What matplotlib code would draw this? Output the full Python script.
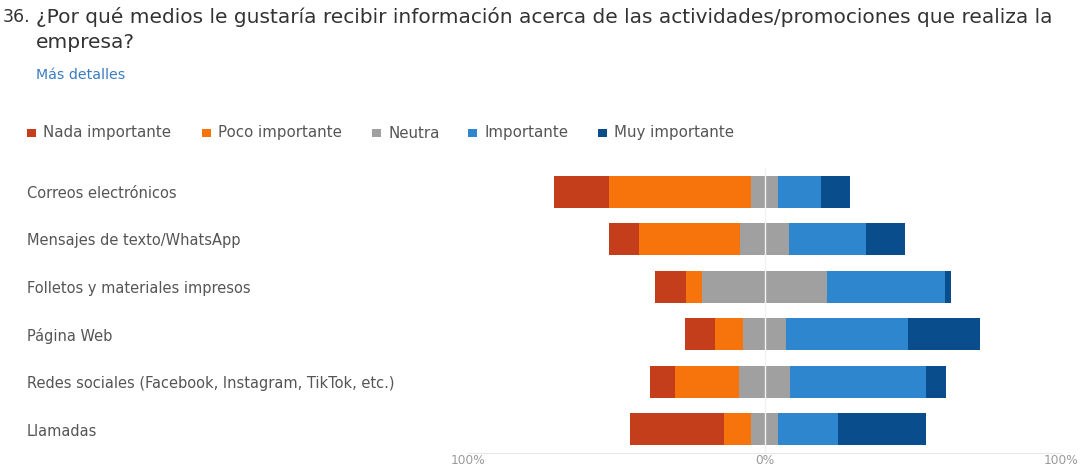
import matplotlib.pyplot as plt
from matplotlib.patches import Rectangle

plt.rcParams['font.family'] = ['DejaVu Sans']

categories = ["Correos electrónicos", "Mensajes de texto/WhatsApp",
              "Folletos y materiales impresos", "Página Web",
              "Redes sociales (Facebook, Instagram, TikTok, etc.)", "Llamadas"]
levels = ["Nada importante", "Poco importante", "Neutra", "Importante", "Muy importante"]
colors = ["#C43E1C", "#F7730C", "#A0A0A0", "#2E86CF", "#0A4D8C"]

# percent of answers per level
nada = [18.3, 10.1, 10.3, 10.1, 8.5, 31.7]
poco = [48.2, 34.0, 5.4, 9.5, 21.8, 8.8]
neutra = [8.8, 16.6, 42.4, 14.6, 16.9, 9.4]
importante = [14.7, 25.9, 39.7, 41.0, 45.9, 20.0]
muy = [9.8, 13.3, 1.9, 24.5, 6.9, 29.8]
tick_vals = [-100, 0, 100]
tick_labels = ["100%", "0%", "100%"]

W, H = 1084, 468
fig = plt.figure(figsize=(W / 100, H / 100), dpi=100)
ax = fig.add_axes([468 / W, 1 - 453 / H, 593 / W, 285 / H])

series = [nada, poco, neutra, importante, muy]
for i in range(len(categories)):
    left = -(nada[i] + poco[i] + neutra[i] / 2)
    for k in range(len(series)):
        v = series[k][i]
        ax.barh(i, v, left=left, height=0.67, color=colors[k], edgecolor='none')
        left += v

ax.axvline(0, color='#f2f2f2', lw=1, zorder=3)
ax.set_xlim(-100, 100)
ax.set_ylim(5.5, -0.5)
ax.set_xticks(tick_vals)
ax.set_xticklabels(tick_labels, color='#9a9a9a', fontsize=8.8)
ax.tick_params(axis='x', length=0, pad=1)
ax.set_yticks([])
for s in ['top', 'right', 'left']:
    ax.spines[s].set_visible(False)
ax.spines['bottom'].set_color('#e8e8e8')

for i, c in enumerate(categories):
    y = 1 - (193 + 47.6 * i) / H
    fig.text(27 / W, y, c, fontsize=10.5, color='#555555', va='center', ha='left')

fig.text(30 / W, 1 - 17 / H, "36.", fontsize=12.5, color='#333333', va='center', ha='right')
fig.text(36 / W, 1 - 17 / H,
         "¿Por qué medios le gustaría recibir información acerca de las actividades/promociones que realiza la",
         fontsize=14.5, color='#333333', va='center', ha='left')
fig.text(36 / W, 1 - 42 / H, "empresa?", fontsize=14.5, color='#333333', va='center', ha='left')
fig.text(36 / W, 1 - 75 / H, "Más detalles", fontsize=10.2, color='#3a7cc0', va='center', ha='left')

# legend drawn by hand to match the spacing of the original
legend_x = [27, 202, 372, 468, 598]
for k, lab in enumerate(levels):
    x0 = legend_x[k]
    fig.patches.append(Rectangle((x0 / W, 1 - 137 / H), 9 / W, 8 / H,
                                 transform=fig.transFigure, facecolor=colors[k], edgecolor='none'))
    fig.text((x0 + 16) / W, 1 - 133 / H, lab, fontsize=10.8, color='#555555', va='center', ha='left')

fig.savefig('out.png', dpi=100)
